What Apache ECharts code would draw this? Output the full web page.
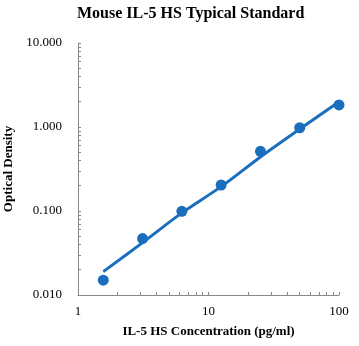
<!DOCTYPE html>
<html>
<head>
<meta charset="utf-8">
<script src="https://cdn.jsdelivr.net/npm/echarts@6/dist/echarts.min.js"></script>
<style>html,body{margin:0;padding:0;background:#fff}#c{width:359px;height:346px}</style>
</head>
<body>
<div id="c"></div>
<script>
const titleText = 'Mouse IL-5 HS Typical Standard';
const xName = 'IL-5 HS Concentration (pg/ml)';
const yName = 'Optical Density';
const conc = [1.5625, 3.125, 6.25, 12.5, 25, 50, 100];
const od = [0.015, 0.047, 0.099, 0.204, 0.514, 0.98, 1.83];
const fitConc = [1.5625, 3.125, 6.25, 12.5, 25, 50, 100];
const fitOD = [0.019, 0.042, 0.095, 0.195, 0.44, 0.945, 2.0];
const xTicks = [1,2,3,4,5,6,7,8,9,10,20,30,40,50,60,70,80,90,100];
const yTicks = [0.01,0.02,0.03,0.04,0.05,0.06,0.07,0.08,0.09,0.1,0.2,0.3,0.4,0.5,0.6,0.7,0.8,0.9,1,2,3,4,5,6,7,8,9,10];

const serif = '"Liberation Serif","Times New Roman",serif';
const blue = '#1a6ebd';
const axisGrey = '#888888';

const chart = echarts.init(document.getElementById('c'), null, {renderer: 'canvas'});
chart.setOption({
  animation: false,
  backgroundColor: '#fff',
  graphic: [{
    type: 'text', left: 77, top: 6,
    style: {text: titleText, font: 'bold 16px ' + serif, fill: '#000'}
  }],
  grid: {left: 78, right: 20, top: 43, bottom: 51, containLabel: false, outerBoundsMode: 'none'},
  xAxis: {
    type: 'log', logBase: 10, min: 1, max: 100,
    name: xName, nameLocation: 'middle', nameGap: 30,
    nameTextStyle: {fontFamily: serif, fontWeight: 'bold', fontSize: 13, color: '#000'},
    axisLine: {lineStyle: {color: axisGrey, width: 1}},
    axisTick: {show: true, inside: true, length: 3, customValues: xTicks, lineStyle: {color: axisGrey}},
    axisLabel: {fontFamily: serif, fontSize: 13, color: '#000', margin: 10,
      formatter: v => String(Math.round(v))},
    splitLine: {show: false}
  },
  yAxis: {
    type: 'log', logBase: 10, min: 0.01, max: 10,
    name: yName, nameLocation: 'middle', nameGap: 58, nameRotate: 90,
    nameTextStyle: {fontFamily: serif, fontWeight: 'bold', fontSize: 13, color: '#000'},
    axisLine: {show: true, lineStyle: {color: axisGrey, width: 1}},
    axisTick: {show: true, inside: true, length: 3, customValues: yTicks, lineStyle: {color: axisGrey}},
    axisLabel: {fontFamily: serif, fontSize: 13, color: '#000', margin: 16,
      formatter: v => Number(v).toFixed(3)},
    splitLine: {show: false}
  },
  series: [
    {
      type: 'line', data: fitConc.map((x, i) => [x, fitOD[i]]),
      smooth: 0.3, symbol: 'none', z: 2,
      lineStyle: {color: blue, width: 3}
    },
    {
      type: 'scatter', data: conc.map((x, i) => [x, od[i]]),
      symbol: 'circle', symbolSize: 11, z: 3,
      itemStyle: {color: blue, opacity: 1}
    }
  ]
});
</script>
</body>
</html>
